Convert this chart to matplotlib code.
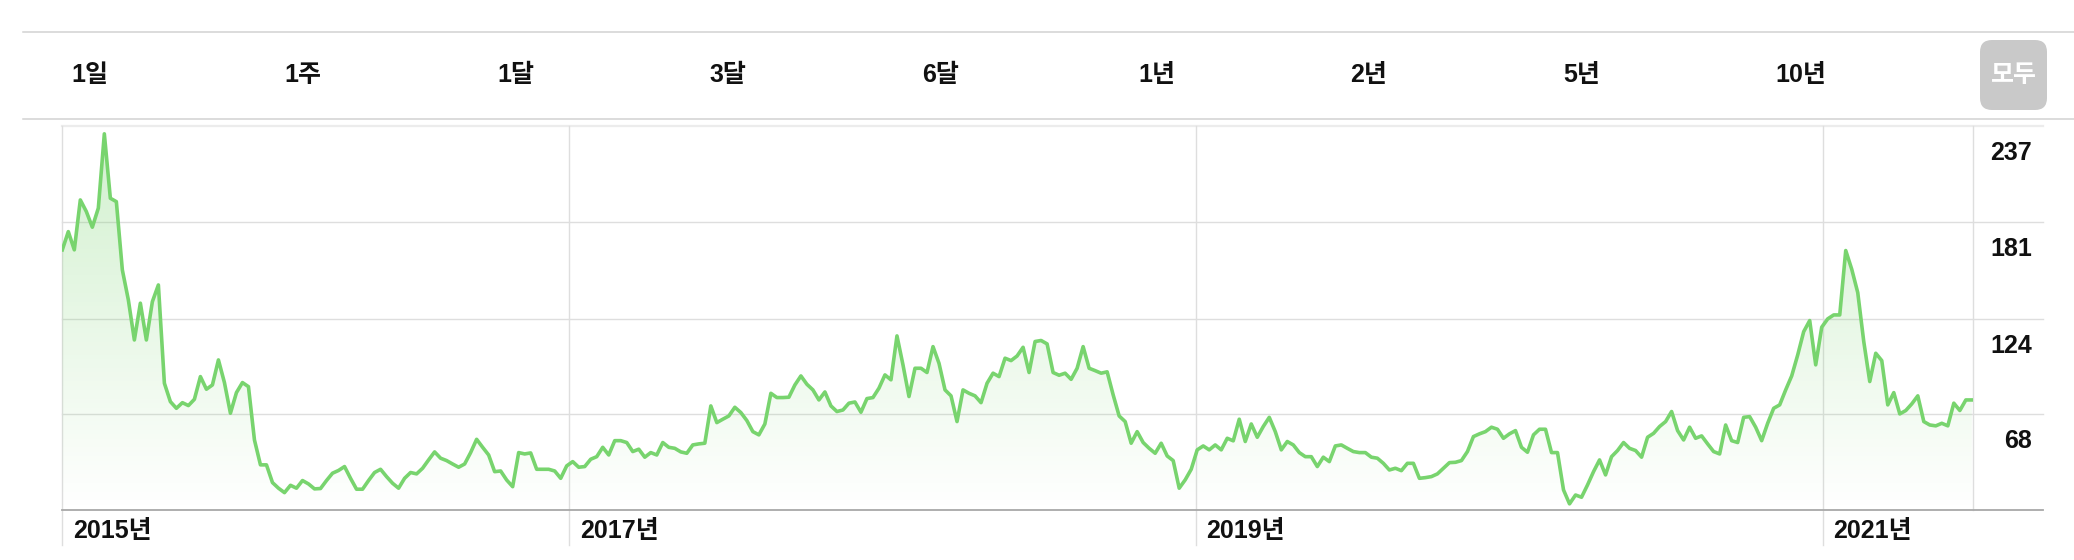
import numpy as np
import pandas as pd
import matplotlib
matplotlib.use("Agg")
import matplotlib.pyplot as plt
import matplotlib.dates as mdates
import matplotlib.transforms as mtransforms
from matplotlib.lines import Line2D
from matplotlib.patches import FancyBboxPatch

plt.rcParams['font.family'] = ['Liberation Sans', 'Noto Sans CJK KR', 'DejaVu Sans']

# ---------------- data ----------------
start_date = "2015-05-21"
values = [
    164.5, 175.2, 164.5, 193.8, 187.0, 177.8, 189.0, 232.6, 194.8, 192.8,
    152.7, 135.1, 111.6, 133.2, 111.6, 134.1, 143.9, 86.2, 75.4, 71.5,
    74.8, 73.1, 76.8, 90.1, 82.7, 85.2, 99.9, 86.6, 68.6, 80.7,
    86.6, 84.2, 52.9, 38.3, 38.3, 27.9, 24.6, 22.0, 26.3, 24.6,
    29.1, 27.1, 24.2, 24.4, 29.1, 33.4,
    35.0, 37.3, 30.4, 24.0, 24.0, 29.1, 33.8, 35.7, 31.4, 27.5,
    24.6, 30.4, 33.8, 33.0, 36.3, 41.2, 45.9, 42.2, 40.8, 38.8,
    36.9, 38.8, 45.5, 53.3, 48.6, 44.1, 34.3, 34.7, 29.4, 25.5,
    45.5, 44.7, 45.3, 35.7, 35.7, 35.7, 34.7, 30.4, 37.7, 40.2,
    36.9, 37.3, 41.6, 43.1, 48.6, 44.1,
    52.5, 52.5, 51.4, 46.1, 47.5, 42.8, 45.5, 44.1, 51.4, 48.6,
    48.0, 45.9, 45.1, 50.0, 50.6, 51.0, 72.9, 63.1, 65.1, 67.0,
    72.1, 69.0, 64.3, 57.8, 55.9, 62.3, 80.3, 77.8, 77.8, 78.0,
    85.2, 90.5, 85.6, 82.3, 76.4, 81.1, 72.9, 69.6, 70.5, 74.5,
    75.2, 69.2, 77.2, 77.8, 83.3, 91.1,
    88.2, 114.0, 97.0, 78.4, 95.0, 95.0, 92.5, 107.7, 97.9, 82.3,
    78.8, 63.7, 82.3, 80.3, 78.8, 74.8, 86.2, 92.1, 90.1, 100.9,
    99.5, 102.2, 107.3, 92.5, 110.7, 111.3, 109.3, 92.5, 90.9, 92.1,
    88.5, 95.0, 107.7, 95.0, 93.6, 92.1, 92.9, 79.4, 67.0, 63.7,
    51.0, 57.8, 51.4, 48.0, 45.1,
    51.0, 43.5, 40.8, 24.6, 29.5, 35.7, 47.1, 49.4, 47.1, 50.0,
    47.1, 53.9, 52.4, 65.1, 52.0, 62.3, 54.5, 60.8, 66.2, 57.8,
    47.1, 52.0, 50.0, 45.5, 43.1, 43.1, 37.3, 42.8, 40.2, 49.4,
    50.0, 48.0, 46.1, 45.5, 45.5, 42.8, 42.2, 39.2, 35.3, 36.3,
    34.9, 39.2, 39.2, 30.4, 30.8, 31.4,
    33.0, 36.3, 39.6, 39.8, 40.8, 46.1, 54.9, 56.5, 57.8, 60.4,
    59.2, 53.9, 56.5, 58.4, 48.6, 45.7, 55.9, 59.2, 59.2, 45.5,
    45.5, 23.6, 15.4, 20.6, 19.3, 26.5, 34.3, 41.2, 32.4, 43.1,
    46.7, 51.4, 48.0, 46.7, 42.8, 54.5, 56.8, 60.8, 63.7, 69.6,
    58.4, 52.9, 60.4, 53.9, 55.3, 50.6,
    46.1, 44.7, 61.7, 52.5, 51.4, 66.2, 66.6, 60.4, 52.5, 62.7,
    71.5, 73.5, 82.3, 90.5, 102.8, 116.5, 123.0, 97.0, 119.1, 124.0,
    126.3, 126.3, 164.1, 153.1, 139.4, 110.7, 87.2, 103.8, 99.5, 73.5,
    80.7, 68.2, 70.2, 74.1, 78.8, 63.7, 61.7, 61.2, 62.7, 61.2,
    74.5, 70.2, 76.4, 76.4,
]
y_ticks = [68, 124, 181, 237]
y_tick_labels = ["68", "124", "181", "237"]
year_ticks = ["2017-01-01", "2019-01-01", "2021-01-01"]
year_labels = ["2015년", "2017년", "2019년", "2021년"]
range_tabs = ["1일", "1주", "1달", "3달", "6달", "1년", "2년", "5년", "10년"]
selected_tab = "모두"

# ---------------- figure ----------------
W, H = 2074, 560
fig = plt.figure(figsize=(W / 100, H / 100), dpi=100)
fig.patch.set_facecolor("white")

ax_l, ax_r, ax_t, ax_b = 62.3, 1972.7, 126, 510
ax = fig.add_axes([ax_l / W, 1 - ax_b / H, (ax_r - ax_l) / W, (ax_b - ax_t) / H])
ax.set_facecolor("none")
for s in ax.spines.values():
    s.set_visible(False)
ax.set_xticks([])
ax.set_yticks([])

dates = pd.date_range(start=start_date, periods=len(values), freq="7D")
xd = mdates.date2num(dates.to_pydatetime())
yv = np.array(values)

x0 = xd[0]
x1 = x0 + 2227
y0, y1 = 11.8, 237.2
ax.set_xlim(x0, x1)
ax.set_ylim(y0, y1)

green = (0.47, 0.83, 0.43)

# gradient fill under the line
poly = ax.fill_between(xd, yv, y0, facecolor="none", edgecolor="none")
grad = np.zeros((256, 1, 4))
grad[..., 0], grad[..., 1], grad[..., 2] = green
grad[:, 0, 3] = np.linspace(0.34, 0.0, 256)
im = ax.imshow(grad, extent=[x0, x1, y0, y1], origin="upper", aspect="auto",
               zorder=2, interpolation="bilinear")
im.set_clip_path(poly.get_paths()[0], transform=ax.transData)
ax.set_xlim(x0, x1)
ax.set_ylim(y0, y1)

ax.plot(xd, yv, color=green, lw=2.6, solid_joinstyle="round", zorder=4)

blend_h = mtransforms.blended_transform_factory(ax.transAxes, ax.transData)
blend_v = mtransforms.blended_transform_factory(ax.transData, ax.transAxes)
ext = (2043 - ax_l) / (ax_r - ax_l)

grid_c = "#dedede"
for v in y_ticks[:-1]:
    ax.plot([0, ext], [v, v], transform=blend_h, color=grid_c, lw=1.0,
            clip_on=False, zorder=1)
# top border
ax.plot([0, ext], [1, 1], transform=ax.transAxes, color="#ececec", lw=1.6,
        clip_on=False, zorder=1)
# baseline
ax.plot([0, ext], [0, 0], transform=ax.transAxes, color="#a8a8a8", lw=1.3,
        clip_on=False, zorder=5)

# vertical lines
ybot = -(545 - ax_b) / (ax_b - ax_t)
ax.plot([0, 0], [ybot, 1], transform=ax.transAxes, color=grid_c, lw=1.0,
        clip_on=False, zorder=1)
ax.plot([1, 1], [0, 1], transform=ax.transAxes, color=grid_c, lw=1.0,
        clip_on=False, zorder=1)
year_x = [x0] + [mdates.date2num(pd.Timestamp(d).to_pydatetime()) for d in year_ticks]
for xv in year_x[1:]:
    ax.plot([xv, xv], [ybot, 1], transform=blend_v, color=grid_c, lw=1.0,
            clip_on=False, zorder=1)

txt_c = "#111111"
fs = 18
# year labels
for xv, lab in zip(year_x, year_labels):
    ax.annotate(lab, xy=(xv, 0), xycoords=blend_v, xytext=(11, -21),
                textcoords="offset pixels", ha="left", va="center",
                fontsize=fs, fontweight="bold", color=txt_c, annotation_clip=False)

# right value labels
xr = (2032 - ax_l) / (ax_r - ax_l)
for v, lab in zip(y_ticks, y_tick_labels):
    ax.annotate(lab, xy=(xr, v), xycoords=blend_h, xytext=(0, -27),
                textcoords="offset pixels", ha="right", va="center",
                fontsize=fs, fontweight="bold", color=txt_c, annotation_clip=False)

# ---------------- header ----------------
for yy in (32, 119):
    fig.add_artist(Line2D([23 / W, 1], [1 - yy / H, 1 - yy / H],
                          transform=fig.transFigure, color="#d2d2d2", lw=1.1))

tab_x = [90, 303, 516, 728, 941, 1157, 1369, 1582, 1801]
for xx, lab in zip(tab_x, range_tabs):
    fig.text(xx / W, 1 - 75 / H, lab, ha="center", va="center",
             fontsize=fs, fontweight="bold", color=txt_c)

btn = FancyBboxPatch((19.80, (H - 110) / 100), 0.67, 0.70,
                     boxstyle="round,pad=0,rounding_size=0.12",
                     transform=fig.dpi_scale_trans, facecolor="#c9c9c9",
                     edgecolor="none")
fig.add_artist(btn)
fig.text(19.80 + 0.335, (H - 75) / 100, selected_tab, transform=fig.dpi_scale_trans,
         ha="center", va="center", fontsize=fs, fontweight="bold", color="white")

fig.savefig("out.png", dpi=100, facecolor="white")
